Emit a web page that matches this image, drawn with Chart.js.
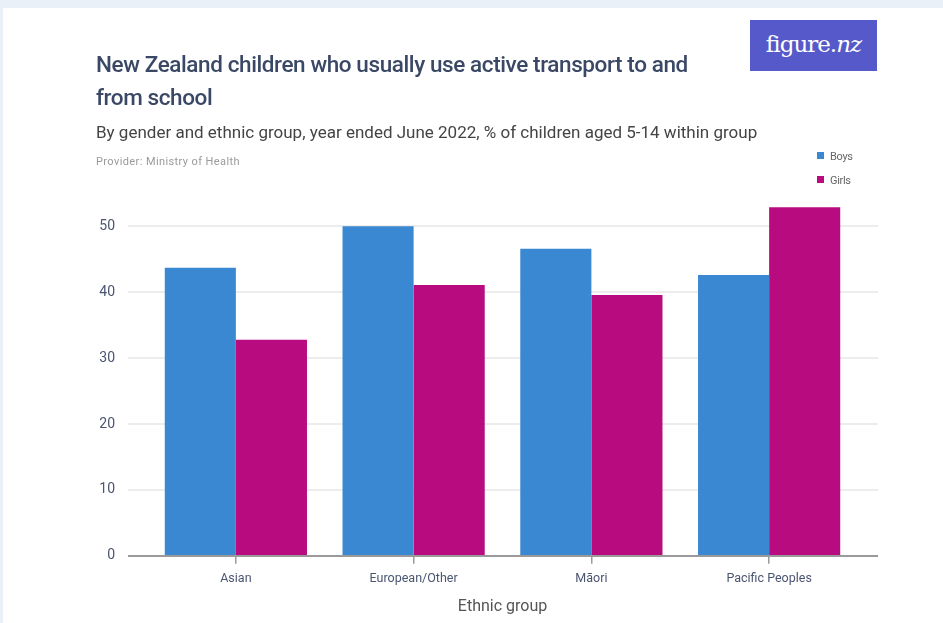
<!DOCTYPE html>
<html>
<head>
<meta charset="utf-8">
<script src="https://cdn.jsdelivr.net/npm/chart.js@4"></script>
<style>
  html, body { margin: 0; padding: 0; background: #eaf0f8; }
  #card { position: absolute; left: 3px; top: 8px; width: 940px; height: 615px; background: #fff; }
  #wrap { position: absolute; left: 0; top: 0; width: 943px; height: 623px; }
  .txt { position: absolute; white-space: nowrap; font-family: Roboto, "Liberation Sans", sans-serif; }
  #title { left: 96px; top: 48px; font-size: 22.5px; line-height: 33px; color: #3a4866; letter-spacing: -0.4px; font-weight: 500; }
  #subtitle { left: 96px; top: 122px; font-size: 17px; color: #444; letter-spacing: 0px; }
  #provider { left: 96px; top: 155px; font-size: 11px; color: #9a9a9a; letter-spacing: 0.4px; }
  #logo { position: absolute; left: 750px; top: 20px; width: 127px; height: 51px; background: #5659c9; color: #fff;
          font-family: "DejaVu Serif", "Liberation Serif", serif; font-size: 23px; line-height: 49px; text-align: center; letter-spacing: -1px; }
  #legend { position: absolute; left: 817px; top: 149px; font-family: Roboto, "Liberation Sans", sans-serif; font-size: 11px; color: #666; letter-spacing: -0.3px; }
  #legend div { height: 24px; line-height: 16px; }
  #legend span.sw { display: inline-block; width: 7px; height: 7px; margin-right: 6px; vertical-align: 1px; }
</style>
</head>
<body>
<div id="card"></div>
<div id="wrap"><canvas id="myChart" width="943" height="623"></canvas></div>
<div class="txt" id="title">New Zealand children who usually use active transport to and<br>from school</div>
<div class="txt" id="subtitle">By gender and ethnic group, year ended June 2022, % of children aged 5-14 within group</div>
<div class="txt" id="provider">Provider: Ministry of Health</div>
<div id="logo">figure.<i>nz</i></div>
<div id="legend"></div>
<script>
const categories = ['Asian', 'European/Other', 'M\u0101ori', 'Pacific Peoples'];
const seriesNames = ['Boys', 'Girls'];
const boys = [43.7, 50.0, 46.6, 42.6];
const girls = [32.8, 41.1, 39.6, 52.9];
const colors = ['#3a88d2', '#b80b80'];
const yTicks = [0, 10, 20, 30, 40, 50];

// legend in html
const legend = document.getElementById('legend');
seriesNames.forEach((name, i) => {
    legend.innerHTML += '<div><span class="sw" style="background:' + colors[i] + '"></span>' + name + '</div>';
});

// gridlines + axis line that run a little past the bars
const gridPlugin = {
    id: 'wideGrid',
    beforeDatasetsDraw: (chart) => {
        const ctx = chart.ctx;
        const area = chart.chartArea;
        const y = chart.scales.y;
        ctx.save();
        ctx.strokeStyle = '#ececec';
        ctx.lineWidth = 2;
        yTicks.forEach(t => {
            if (t === 0) return;
            const py = Math.round(y.getPixelForValue(t));
            ctx.beginPath();
            ctx.moveTo(area.left - 19, py);
            ctx.lineTo(area.right + 20, py);
            ctx.stroke();
        });
        ctx.restore();
    },
    afterDatasetsDraw: (chart) => {
        const ctx = chart.ctx;
        const area = chart.chartArea;
        const py = Math.round(chart.scales.y.getPixelForValue(0));
        ctx.save();
        ctx.strokeStyle = '#9a9a9a';
        ctx.lineWidth = 2;
        ctx.beginPath();
        ctx.moveTo(area.left - 19, py);
        ctx.lineTo(area.right + 20, py);
        ctx.stroke();
        ctx.restore();
    }
};

const ctx = document.getElementById('myChart').getContext('2d');
const myChart = new Chart(ctx, {
    type: 'bar',
    plugins: [gridPlugin],
    data: {
        labels: categories,
        datasets: [
            { label: seriesNames[0], data: boys, backgroundColor: colors[0] },
            { label: seriesNames[1], data: girls, backgroundColor: colors[1] }
        ]
    },
    options: {
        responsive: false,
        animation: false,
        layout: { padding: { left: 0, right: 85, top: 200, bottom: 6 } },
        datasets: { bar: { barPercentage: 1.0, categoryPercentage: 0.8 } },
        plugins: { legend: { display: false }, tooltip: { enabled: false } },
        scales: {
            x: {
                grid: { display: true, drawOnChartArea: false, offset: false, tickLength: 8, color: '#9a9a9a', lineWidth: 1.5 },
                border: { display: false },
                ticks: { color: '#4a5570', font: { family: 'Roboto', size: 12.5 }, padding: 8 },
                title: { display: true, text: 'Ethnic group', color: '#555', font: { family: 'Roboto', size: 16 }, padding: { top: 3, bottom: 0 } }
            },
            y: {
                min: 0,
                max: 54,
                afterBuildTicks: (axis) => { axis.ticks = yTicks.map(v => ({ value: v })); },
                afterFit: (axis) => { axis.width = 147; },
                grid: { display: false, drawTicks: false },
                border: { display: false },
                ticks: { color: '#4a5570', font: { family: 'Roboto', size: 14 }, padding: 32 }
            }
        }
    }
});
</script>
</body>
</html>
